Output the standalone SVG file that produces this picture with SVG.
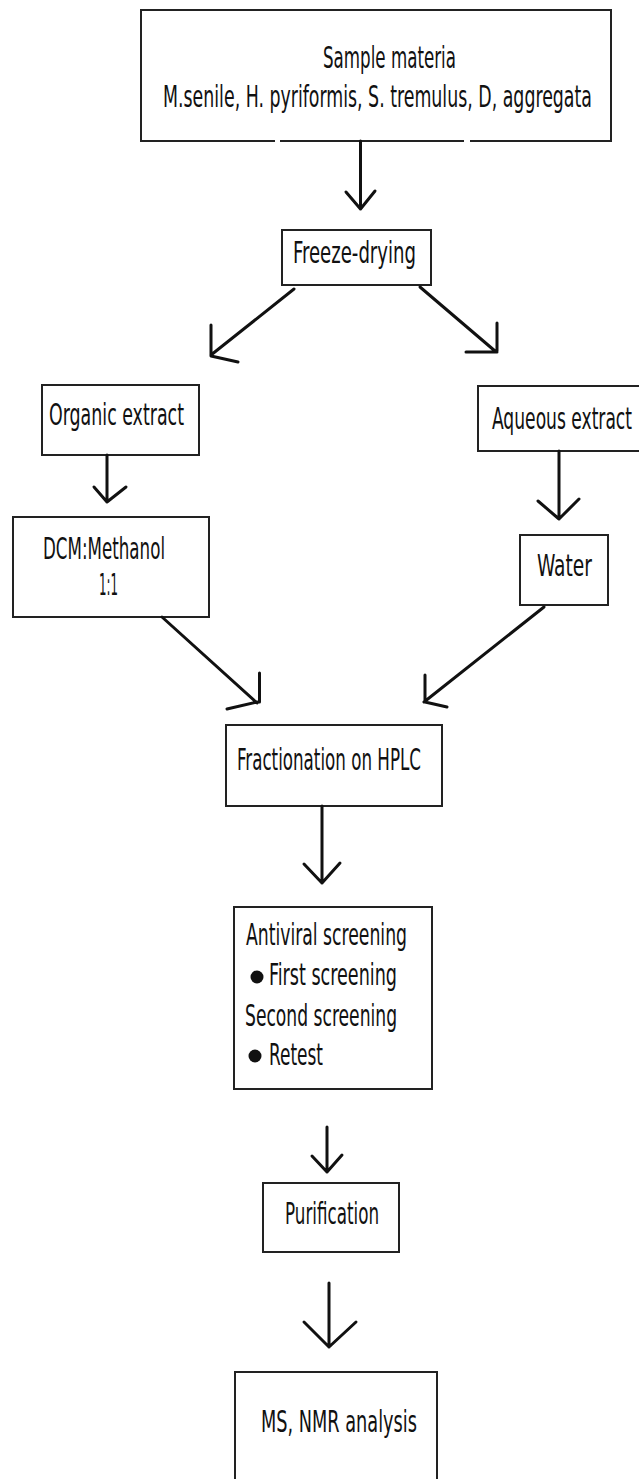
<svg xmlns="http://www.w3.org/2000/svg" width="639" height="1479" viewBox="0 0 639 1479">
<style>
.box{fill:#fff;stroke:#222;stroke-width:2}
.t{font-family:"Liberation Sans Narrow","DejaVu Sans Condensed","Liberation Sans",sans-serif;font-size:31px;fill:#111}
.c{fill:none;stroke:#111;stroke-width:3;stroke-linecap:round;stroke-linejoin:round}
</style>
<rect width="639" height="1479" fill="#fff"/>
<g id="sample">
<path class="box" d="M275,141 H141 V10 H611 V141 H470 M464,141 H280"/>
<text class="t" transform="translate(323,68) scale(0.62,1)" textLength="214.5" lengthAdjust="spacingAndGlyphs">Sample materia</text>
<text class="t" transform="translate(163,107) scale(0.62,1)" textLength="691.9" lengthAdjust="spacingAndGlyphs">M.senile, H. pyriformis, S. tremulus, D, aggregata</text>
</g>
<g id="freeze">
<rect class="box" x="282" y="230" width="149" height="55"/>
<text class="t" transform="translate(293,263) scale(0.62,1)" textLength="198.4" lengthAdjust="spacingAndGlyphs">Freeze-drying</text>
</g>
<g id="organic">
<rect class="box" x="42" y="385" width="157" height="70"/>
<text class="t" transform="translate(49,425) scale(0.62,1)" textLength="217.7" lengthAdjust="spacingAndGlyphs">Organic extract</text>
</g>
<g id="aqueous">
<rect class="box" x="478" y="386" width="170" height="65"/>
<text class="t" transform="translate(492,429) scale(0.62,1)" textLength="225.8" lengthAdjust="spacingAndGlyphs">Aqueous extract</text>
</g>
<g id="dcm">
<rect class="box" x="13" y="517" width="196" height="100"/>
<text class="t" transform="translate(43,559) scale(0.62,1)" textLength="196.8" lengthAdjust="spacingAndGlyphs">DCM:Methanol</text>
<text class="t" transform="translate(99,595) scale(0.62,1)" textLength="30.6" lengthAdjust="spacingAndGlyphs">1:1</text>
</g>
<g id="water">
<rect class="box" x="520" y="535" width="88" height="70"/>
<text class="t" transform="translate(537,576) scale(0.62,1)" textLength="88.7" lengthAdjust="spacingAndGlyphs">Water</text>
</g>
<g id="hplc">
<rect class="box" x="226" y="725" width="216" height="81"/>
<text class="t" transform="translate(237,770) scale(0.62,1)" textLength="296.8" lengthAdjust="spacingAndGlyphs">Fractionation on HPLC</text>
</g>
<g id="antiviral">
<rect class="box" x="234" y="907" width="198" height="182"/>
<text class="t" transform="translate(246,945) scale(0.62,1)" textLength="259.7" lengthAdjust="spacingAndGlyphs">Antiviral screening</text>
<circle cx="257" cy="977" r="6.5" fill="#111"/>
<text class="t" transform="translate(269,985) scale(0.62,1)" textLength="206.5" lengthAdjust="spacingAndGlyphs">First screening</text>
<text class="t" transform="translate(245,1026) scale(0.62,1)" textLength="245.2" lengthAdjust="spacingAndGlyphs">Second screening</text>
<circle cx="255" cy="1056" r="6.5" fill="#111"/>
<text class="t" transform="translate(269,1065) scale(0.62,1)" textLength="87.1" lengthAdjust="spacingAndGlyphs">Retest</text>
</g>
<g id="purification">
<rect class="box" x="263" y="1183" width="136" height="69"/>
<text class="t" transform="translate(285,1224) scale(0.62,1)" textLength="151.6" lengthAdjust="spacingAndGlyphs">Purification</text>
</g>
<g id="ms">
<path class="box" d="M235,1485 V1372 H437 V1485"/>
<text class="t" transform="translate(261,1432) scale(0.62,1)" textLength="251.6" lengthAdjust="spacingAndGlyphs">MS, NMR analysis</text>
</g>
<g id="connectors">
<path class="c" d="M360.5,141 V209 M346,192 L360.5,209 L375,191"/>
<path class="c" d="M294,289 L211,355 M211,325 V356 L238,362"/>
<path class="c" d="M420,287 L495,351 M497,323 V351 M466,352 H497"/>
<path class="c" d="M107,455 V502 M94,487 L107,502 L126,487"/>
<path class="c" d="M559,451 V519 M538,501 L559,519 L579,499"/>
<path class="c" d="M162,617 L257,703 M259.5,673 V702 M227,709 L257,702"/>
<path class="c" d="M544,607 L424,702 M425,675 V702 L447,707"/>
<path class="c" d="M322,806 V883 M304,864 L322,883 L340,863"/>
<path class="c" d="M327,1127 V1172 M312,1156 L327,1172 L342,1155"/>
<path class="c" d="M329,1283 V1347 M304,1322 L329,1347 L356,1322"/>
</g>
</svg>
